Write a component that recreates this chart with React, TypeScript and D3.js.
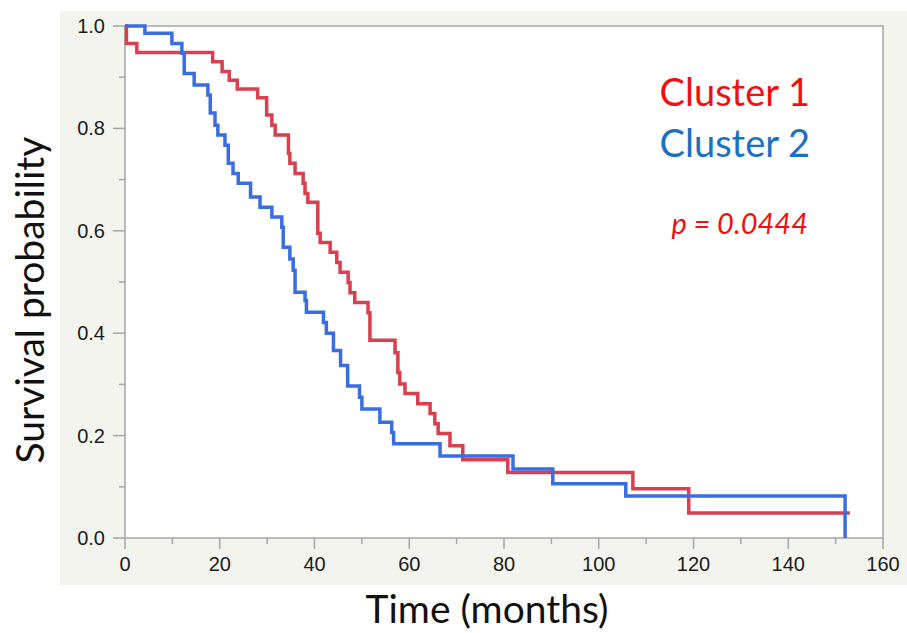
import React from "react";
import * as d3 from "d3";

// Kaplan-Meier steps: time (months) and survival after the step
const cluster1Times = [0, 0.3, 2.5, 18.5, 20.5, 22, 23.7, 28, 29.9, 31, 31.7, 34.5, 34.8, 35.9, 37.6, 38, 38.6, 40.7, 41.2, 43.3, 44.7, 45.4, 47.1, 47.5, 48.5, 51.3, 51.7, 57, 57.6, 58, 59.1, 61.8, 64.4, 65.4, 66.1, 68.6, 71.3, 80.8, 107.2, 119, 153];
const cluster1Surv = [1, 0.966, 0.948, 0.93, 0.911, 0.894, 0.877, 0.86, 0.826, 0.806, 0.787, 0.751, 0.732, 0.712, 0.693, 0.673, 0.656, 0.595, 0.577, 0.558, 0.538, 0.519, 0.499, 0.479, 0.46, 0.44, 0.386, 0.362, 0.323, 0.301, 0.282, 0.262, 0.243, 0.223, 0.204, 0.18, 0.153, 0.128, 0.096, 0.049, 0.049];

const cluster2Times = [0, 4.2, 9.9, 12, 12.5, 14.6, 17.5, 18, 19, 19.6, 21.1, 21.8, 22.8, 23.9, 26.5, 28.5, 31, 33.1, 33.4, 34.8, 35.5, 35.9, 38, 38.3, 41.9, 42.5, 44, 45.5, 47, 49.5, 50, 53.8, 56.3, 56.7, 66.5, 81.9, 90.3, 105.7, 152, 152];
const cluster2Surv = [1, 0.986, 0.966, 0.947, 0.907, 0.885, 0.865, 0.83, 0.806, 0.787, 0.767, 0.732, 0.712, 0.693, 0.666, 0.646, 0.627, 0.607, 0.568, 0.545, 0.523, 0.48, 0.464, 0.441, 0.421, 0.4, 0.366, 0.337, 0.297, 0.275, 0.252, 0.226, 0.206, 0.184, 0.16, 0.135, 0.106, 0.082, 0.082, 0];

const xTicks = [0, 20, 40, 60, 80, 100, 120, 140, 160];
const yTicks = [0, 0.2, 0.4, 0.6, 0.8, 1.0];

const RED = "#d83f4f";
const BLUE = "#3a6ee0";

export default function App() {
  const width = 907;
  const height = 633;
  const margin = { left: 125, right: 883, top: 26, bottom: 538 };

  const x = d3.scaleLinear().domain([0, 160]).range([margin.left, margin.right]);
  const y = d3.scaleLinear().domain([0, 1]).range([margin.bottom, margin.top]);

  const line = d3
    .line<[number, number]>()
    .x(d => x(d[0]))
    .y(d => y(d[1]))
    .curve(d3.curveStepAfter);

  const red = cluster1Times.map((t, i) => [t, cluster1Surv[i]] as [number, number]);
  const blue = cluster2Times.map((t, i) => [t, cluster2Surv[i]] as [number, number]);

  const minorX = d3.range(10, 160, 20);
  const minorY = d3.range(0.1, 1, 0.2);

  const tickFont = "'Liberation Sans', Arial, sans-serif";
  const titleFont = "Lato, 'Open Sans', sans-serif";

  return (
    <svg
      width={width}
      height={height}
      style={{ position: "absolute", left: 0, top: 0, background: "#fff" }}
    >
      <rect x={60} y={11} width={width - 60} height={574} fill="#f4f4ef" />
      <rect
        x={margin.left}
        y={margin.top}
        width={margin.right - margin.left}
        height={margin.bottom - margin.top}
        fill="#fff"
        stroke="#a6a6a6"
        strokeWidth={1.5}
      />

      {/* y ticks */}
      {yTicks.map(t => (
        <g key={"y" + t}>
          <line x1={x(0) - 12} x2={x(0)} y1={y(t)} y2={y(t)} stroke="#a6a6a6" strokeWidth={1.5} />
          <text x={x(0) - 20} y={y(t) + 7} textAnchor="end" fontSize={20} fontFamily={tickFont} fill="#1a1a1a">
            {t.toFixed(1)}
          </text>
        </g>
      ))}
      {minorY.map(t => (
        <line key={"my" + t} x1={x(0) - 6} x2={x(0)} y1={y(t)} y2={y(t)} stroke="#a6a6a6" strokeWidth={1.5} />
      ))}

      {/* x ticks */}
      {xTicks.map(t => (
        <g key={"x" + t}>
          <line x1={x(t)} x2={x(t)} y1={y(0)} y2={y(0) + 11} stroke="#a6a6a6" strokeWidth={1.5} />
          <text x={x(t)} y={y(0) + 33} textAnchor="middle" fontSize={20} fontFamily={tickFont} fill="#1a1a1a">
            {t}
          </text>
        </g>
      ))}
      {minorX.map(t => (
        <line key={"mx" + t} x1={x(t)} x2={x(t)} y1={y(0)} y2={y(0) + 6} stroke="#a6a6a6" strokeWidth={1.5} />
      ))}

      <path d={line(red) ?? ""} fill="none" stroke={RED} strokeWidth={3.5} />
      <path d={line(blue) ?? ""} fill="none" stroke={BLUE} strokeWidth={3.5} />

      <text x={810} y={106} textAnchor="end" fontSize={38} fontFamily={titleFont} fill="#ee1111">
        Cluster 1
      </text>
      <text x={810} y={157} textAnchor="end" fontSize={38} fontFamily={titleFont} fill="#1b70c2">
        Cluster 2
      </text>
      <text x={808} y={234} textAnchor="end" fontSize={29} fontStyle="italic" fontFamily={titleFont} fill="#ee1111">
        p = 0.0444
      </text>

      <text x={487} y={623} textAnchor="middle" fontSize={39} fontFamily={titleFont} fill="#111">
        Time (months)
      </text>
      <text
        transform={`translate(44, ${(margin.top + margin.bottom) / 2 + 18}) rotate(-90)`}
        textAnchor="middle"
        fontSize={39}
        fontFamily={titleFont}
        fill="#111"
      >
        Survival probability
      </text>
    </svg>
  );
}
